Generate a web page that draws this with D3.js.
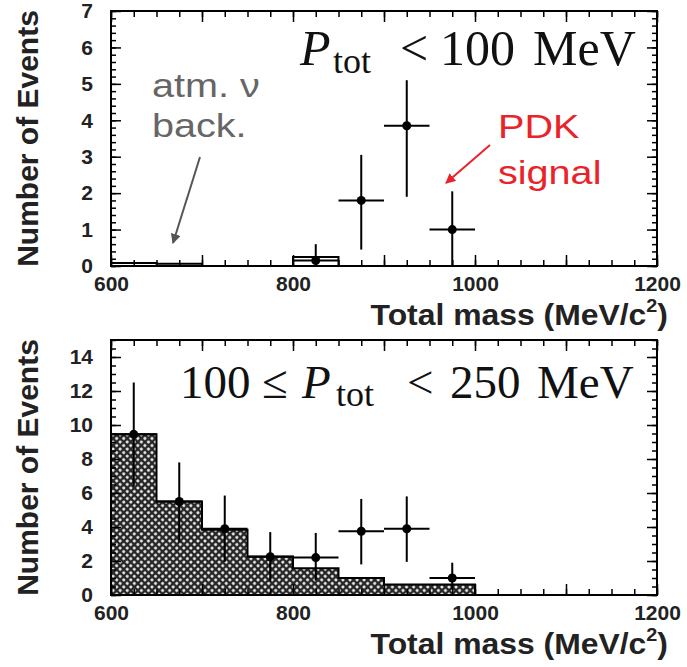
<!DOCTYPE html>
<html>
<head>
<meta charset="utf-8">
<script src="https://cdn.jsdelivr.net/npm/d3@7"></script>
<style>
  body { margin: 0; background: #fff; }
</style>
</head>
<body>
<div id="chart"></div>
<script>
// bins of total mass (lower edges, 50 MeV wide)
const binLow = [600, 650, 700, 750, 800, 850, 900, 950, 1000, 1050, 1100, 1150];
// centres of the data points
const pointMass = [625, 675, 725, 775, 825, 875, 925, 975];

// P_tot < 100 MeV
const topBackground = [0.08, 0.06, 0, 0, 0.25, 0, 0, 0, 0, 0, 0, 0];
const topMass = [825, 875, 925, 975];
const topCounts = [0.15, 1.8, 3.85, 1.0];
const topErrLow = [0, 0.45, 1.9, 0];
const topErrHigh = [0.6, 3.05, 5.1, 2.05];
const topYTicks = [0, 1, 2, 3, 4, 5, 6, 7];

// 100 <= P_tot < 250 MeV
const bottomBackground = [9.45, 5.5, 3.84, 2.26, 1.58, 1.0, 0.62, 0.62, 0, 0, 0, 0];
const bottomCounts = [9.45, 5.5, 3.9, 2.25, 2.2, 3.75, 3.9, 1.0];
const bottomErrLow = [6.4, 3.1, 1.95, 0.8, 0.85, 1.8, 1.95, 0.3];
const bottomErrHigh = [12.5, 7.8, 5.85, 3.7, 3.65, 5.65, 5.8, 1.9];
const bottomYTicks = [0, 2, 4, 6, 8, 10, 12, 14];

const xMajor = [600, 700, 800, 900, 1000, 1100, 1200];
const xLabels = [600, 800, 1000, 1200];

const W = 687, H = 667;
const svg = d3.select("#chart").append("svg")
    .attr("width", W)
    .attr("height", H);

// dotted cross-hatch fill for the MC histogram
const defs = svg.append("defs");
const pat = defs.append("pattern")
    .attr("id", "mesh")
    .attr("patternUnits", "userSpaceOnUse")
    .attr("width", 5)
    .attr("height", 5)
    .attr("patternTransform", "rotate(45)");
pat.append("rect").attr("width", 5).attr("height", 5).attr("fill", "#262626");
pat.append("circle").attr("cx", 2.5).attr("cy", 2.5).attr("r", 1.5).attr("fill", "#f4f4f4");

["grayArrow", "redArrow"].forEach((id, i) => {
  defs.append("marker")
      .attr("id", id)
      .attr("viewBox", "0 0 10 10")
      .attr("refX", 9).attr("refY", 5)
      .attr("markerWidth", 5).attr("markerHeight", 5)
      .attr("orient", "auto")
    .append("path")
      .attr("d", "M0,0L10,5L0,10z")
      .attr("fill", i === 0 ? "#555" : "#e8232a");
});

const sans = "'Liberation Sans', Arial, sans-serif";
const serif = "'Liberation Serif', 'Times New Roman', serif";

function drawPanel(p) {
  const x = d3.scaleLinear().domain([600, 1200]).range([111, 657]);
  const y = d3.scaleLinear().domain([0, p.yMax]).range([p.bottom, p.top]);
  const g = svg.append("g");

  // background histogram
  const steps = binLow.map((b, i) => ({m: b, v: p.bg[i]}))
      .concat([{m: 1200, v: p.bg[p.bg.length - 1]}]);
  g.append("path").datum(steps)
      .attr("d", d3.area().curve(d3.curveStepAfter)
          .x(d => x(d.m)).y0(y(0)).y1(d => y(d.v)))
      .attr("fill", p.fill);
  g.append("path").datum(steps)
      .attr("d", d3.line().curve(d3.curveStepAfter)
          .x(d => x(d.m)).y(d => y(d.v)))
      .attr("fill", "none")
      .attr("stroke", "#000")
      .attr("stroke-width", 2);

  // axes, ticks pointing inward
  g.append("g").attr("transform", `translate(0,${p.bottom})`)
      .call(d3.axisBottom(x).tickValues(xMajor).tickSize(-11).tickPadding(10)
          .tickFormat(d => xLabels.includes(d) ? d : ""));
  g.append("g").attr("transform", `translate(0,${p.bottom})`)
      .call(d3.axisBottom(x).tickValues(d3.range(600, 1201, 25)).tickSize(-6).tickFormat(""));
  g.append("g").attr("transform", `translate(0,${p.top})`)
      .call(d3.axisTop(x).tickValues(xMajor).tickSize(-11).tickFormat(""));
  g.append("g").attr("transform", `translate(0,${p.top})`)
      .call(d3.axisTop(x).tickValues(d3.range(600, 1201, 25)).tickSize(-6).tickFormat(""));

  g.append("g").attr("transform", "translate(111,0)")
      .call(d3.axisLeft(y).tickValues(p.yTicks).tickSize(-10).tickPadding(18)
          .tickFormat(d3.format("d")));
  g.append("g").attr("transform", "translate(111,0)")
      .call(d3.axisLeft(y).tickValues(d3.range(0, p.yMax + 1e-9, p.yMinor)).tickSize(-5).tickFormat(""));
  g.append("g").attr("transform", "translate(657,0)")
      .call(d3.axisRight(y).tickValues(p.yTicks).tickSize(-10).tickFormat(""));
  g.append("g").attr("transform", "translate(657,0)")
      .call(d3.axisRight(y).tickValues(d3.range(0, p.yMax + 1e-9, p.yMinor)).tickSize(-5).tickFormat(""));

  g.selectAll(".domain").remove();
  g.selectAll(".tick line").attr("stroke", "#000").attr("stroke-width", 1.5);
  g.selectAll(".tick text")
      .attr("font-family", sans)
      .attr("font-weight", "bold")
      .attr("font-size", 21)
      .attr("fill", "#222");

  // frame
  g.append("rect")
      .attr("x", 111).attr("y", p.top)
      .attr("width", 657 - 111).attr("height", p.bottom - p.top)
      .attr("fill", "none")
      .attr("stroke", "#000")
      .attr("stroke-width", 2);

  // data points with error bars
  const pts = p.mass.map((m, i) => ({m, v: p.counts[i], lo: p.lo[i], hi: p.hi[i]}));
  const pg = g.append("g").selectAll("g").data(pts).enter().append("g");
  pg.append("line")
      .attr("x1", d => x(d.m)).attr("x2", d => x(d.m))
      .attr("y1", d => y(d.lo)).attr("y2", d => y(d.hi))
      .attr("stroke", "#000").attr("stroke-width", 2);
  pg.append("line")
      .attr("x1", d => x(d.m - 25)).attr("x2", d => x(d.m + 25))
      .attr("y1", d => y(d.v)).attr("y2", d => y(d.v))
      .attr("stroke", "#000").attr("stroke-width", 2);
  pg.append("circle")
      .attr("cx", d => x(d.m)).attr("cy", d => y(d.v))
      .attr("r", 4.5).attr("fill", "#000");

  // axis titles
  svg.append("text")
      .attr("transform", `translate(38,${(p.top + p.bottom) / 2}) rotate(-90)`)
      .attr("text-anchor", "middle")
      .attr("font-family", sans)
      .attr("font-weight", "bold")
      .attr("font-size", 30)
      .attr("fill", "#222")
      .text("Number of Events");

  const xt = svg.append("text")
      .attr("transform", `translate(668,${p.bottom + 59}) scale(1.1,1)`)
      .attr("text-anchor", "end")
      .attr("font-family", sans)
      .attr("font-weight", "bold")
      .attr("font-size", 29)
      .attr("fill", "#222");
  xt.append("tspan").text("Total mass (MeV/c");
  xt.append("tspan").attr("font-size", 18).attr("dy", -13).text("2");
  xt.append("tspan").attr("dy", 13).text(")");
}

drawPanel({top: 11, bottom: 266, yMax: 7, yTicks: topYTicks, yMinor: 0.2, fill: "none",
  bg: topBackground, mass: topMass, counts: topCounts, lo: topErrLow, hi: topErrHigh});
drawPanel({top: 340, bottom: 595, yMax: 15, yTicks: bottomYTicks, yMinor: 0.5, fill: "url(#mesh)",
  bg: bottomBackground, mass: pointMass, counts: bottomCounts, lo: bottomErrLow, hi: bottomErrHigh});

// panel titles in TeX-like serif
function serifText(parts, baseline, size) {
  parts.forEach(pt => {
    svg.append("text")
        .attr("x", pt.x)
        .attr("y", baseline + (pt.sub ? 8 : 0))
        .attr("font-family", serif)
        .attr("font-size", pt.sub ? 36 : size)
        .attr("font-style", pt.it ? "italic" : "normal")
        .attr("fill", "#111")
        .text(pt.t);
  });
}
serifText([
  {t: "P", x: 300, it: true},
  {t: "tot", x: 333, sub: true},
  {t: "<", x: 400},
  {t: "100", x: 440},
  {t: "MeV", x: 533}
], 65, 50);
serifText([
  {t: "100", x: 180},
  {t: "\u2264", x: 262},
  {t: "P", x: 302, it: true},
  {t: "tot", x: 336, sub: true},
  {t: "<", x: 407},
  {t: "250", x: 450},
  {t: "MeV", x: 537}
], 398, 47);

// annotations
function note(lines, x, y0, dy, color) {
  lines.forEach((s, i) => {
    svg.append("text")
        .attr("transform", `translate(${x},${y0 + i * dy}) scale(1.2,1)`)
        .attr("font-family", sans)
        .attr("font-size", 33)
        .attr("fill", color)
        .text(s);
  });
}
note(["atm. \u03bd", "back."], 152, 97, 40, "#666");
note(["PDK", "signal"], 498, 138, 46, "#e8232a");

svg.append("line")
    .attr("x1", 200).attr("y1", 157).attr("x2", 173).attr("y2", 243)
    .attr("stroke", "#555").attr("stroke-width", 2)
    .attr("marker-end", "url(#grayArrow)");
svg.append("line")
    .attr("x1", 490).attr("y1", 145).attr("x2", 446).attr("y2", 183)
    .attr("stroke", "#e8232a").attr("stroke-width", 2)
    .attr("marker-end", "url(#redArrow)");
</script>
</body>
</html>
